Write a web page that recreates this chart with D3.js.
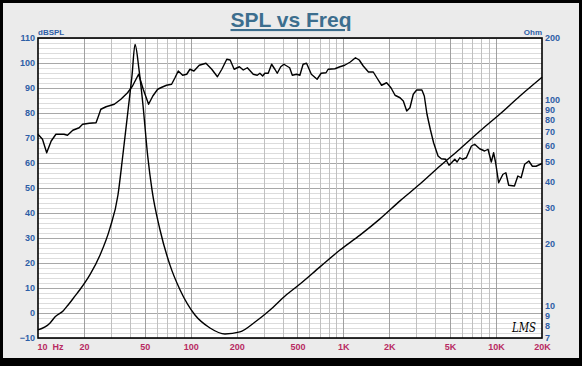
<!DOCTYPE html>
<html><head><meta charset="utf-8">
<script src="https://cdn.jsdelivr.net/npm/d3@7"></script>
<style>body{margin:0;background:#000}svg{display:block}</style>
</head><body><svg id="c" width="582" height="366"></svg>
<script>
const splFreq = [10,10.7,11.4,12.2,13.1,14.8,15.6,16.9,18.6,19.6,21.7,24.0,24.9,25.8,27.9,31.6,34.9,38.6,41.6,45.6,48.9,53.0,56.5,60.8,64.7,69.5,75.0,78.9,82.9,88.6,94.2,98.9,105,113.8,125.9,137.4,149.7,160,172.4,181.4,192.6,208.5,221,235,257,273,284,296,306,322,339,356,369,389,408,445,463,494,519,545,574,617,673,715,770,795,880,950,1020,1110,1200,1270,1350,1460,1570,1680,1780,1920,2050,2180,2350,2470,2600,2730,2870,3020,3270,3390,3530,3710,3900,4170,4380,4680,4920,5110,5370,5560,5790,6030,6390,6900,7250,7810,8420,8860,9310,9640,9940,10400,11100,11600,12100,13200,13900,14600,15400,16400,17300,18300,19500,20000];
const splDb = [71.5,69.5,64.1,68.8,71.5,71.5,71.1,73.1,74.1,75.5,75.9,76.1,78.8,81.5,82.5,83.5,85.5,88.1,90.8,95.5,89.5,83.5,86.8,89.5,90.3,91.1,91.5,94.1,96.8,95.1,95.5,97.5,96.8,99.1,99.9,97.5,94.5,97.5,101.5,101.2,97.5,98.5,97.2,98.1,95.5,95.1,95.9,94.8,95.9,95.9,99.5,97.5,95.9,98.5,99.5,98.1,95.1,95.5,95.1,99.5,99.9,95.5,93.5,95.9,96.1,97.5,97.7,98.5,99.1,100.4,102.1,101.2,98.8,96.4,96.4,93.5,91.1,92.1,90.1,87.1,86.1,84.8,80.8,82.1,87.5,89.2,89.2,86.8,79.5,73.5,68.1,62.8,61.7,61.5,59.1,60.1,61.5,60.4,62.1,61.5,62.1,66.8,67.5,65.7,64.8,65.5,60.4,64.1,60.1,52.1,55.5,56.1,51.1,50.8,54.8,54.1,59.5,60.8,58.7,58.7,59.5,59.8];
const impFreq = [10,12.0,12.9,14.6,15.7,17.5,18.8,21.9,25.5,29.6,33.4,35.9,38.9,41.3,43.2,45.9,48.7,52.3,55.8,63.0,73.2,85.1,106.7,133.8,167.7,210,264,331,415,520,703,950,1285,1737,2349,3175,4292,5801,7845,10605,14340,20000];
const impOhm = [7.66,8.28,8.85,9.47,10.1,11.2,12.0,14.2,17.7,23.9,34.6,53.5,89.5,132,186,140,94.6,53.5,36.6,23.4,15.8,12.0,9.05,7.83,7.32,7.49,8.37,9.57,11.2,12.8,15.5,18.7,22.1,26.5,32.4,39.1,47.8,57.9,70.7,85.5,104.6,129];
const dbTicks = [110,100,90,80,70,60,50,40,30,20,10,0,-10];
const ohmTicks = [200,100,90,80,70,60,50,40,30,20,10,9,8,7];
const freqTicks = [10,20,50,100,200,500,1000,2000,5000,10000,20000];
const freqTickLabels = ["10  Hz","20","50","100","200","500","1K","2K","5K","10K","20K"];
const title = "SPL vs Freq";

const svg = d3.select("#c");
const L=38, R=542, T=38, B=338;
const x = d3.scaleLog().domain([10,20000]).range([L,R]);
const y = d3.scaleLinear().domain([-10,110]).range([B,T]);
const y2 = d3.scaleLog().domain([7,200]).range([B,T]);

svg.append("rect").attr("x",3).attr("y",3).attr("width",576).attr("height",355).attr("fill","#ebebeb");
svg.append("rect").attr("x",L).attr("y",T).attr("width",R-L).attr("height",B-T).attr("fill","#fff");

// grid
const g = svg.append("g");
const minorDb = d3.range(-10,110.1,2);
g.selectAll(".hm").data(minorDb).join("line").attr("x1",L).attr("x2",R)
  .attr("y1",d=>Math.round(y(d))+0.5).attr("y2",d=>Math.round(y(d))+0.5)
  .attr("stroke",d=>d%10===0?"#a8a8a8":"#dcdcdc").attr("stroke-width",1);
const vf=[];
[10,100,1000,10000].forEach(dec=>{for(let k=1;k<10;k++){const f=dec*k;if(f>10&&f<20000)vf.push(f);}});
g.selectAll(".vm").data(vf).join("line").attr("y1",T).attr("y2",B)
  .attr("x1",d=>Math.round(x(d))+0.5).attr("x2",d=>Math.round(x(d))+0.5)
  .attr("stroke",d=>freqTicks.includes(d)?"#a0a0a0":"#c0c0c0").attr("stroke-width",1);

// curves
svg.append("path").datum(impFreq.map((f,i)=>[f,impOhm[i]]))
  .attr("d",d3.line().x(d=>x(d[0])).y(d=>y2(d[1])).curve(d3.curveMonotoneX))
  .attr("fill","none").attr("stroke","#000").attr("stroke-width",1.4);
svg.append("path").datum(splFreq.map((f,i)=>[f,splDb[i]]))
  .attr("d",d3.line().x(d=>x(d[0])).y(d=>y(d[1])))
  .attr("fill","none").attr("stroke","#000").attr("stroke-width",1.4).attr("stroke-linejoin","round");

svg.append("rect").attr("x",L).attr("y",T).attr("width",R-L).attr("height",B-T)
  .attr("fill","none").attr("stroke","#000").attr("stroke-width",1.6);

// axes
const blue="#2e5ea6", red="#b82a62";
const ax = svg.append("g").attr("transform",`translate(${L-1},0)`)
  .call(d3.axisLeft(y).tickValues(dbTicks).tickSize(0).tickPadding(2));
const ax2 = svg.append("g").attr("transform",`translate(${R+1},0)`)
  .call(d3.axisRight(y2).tickValues(ohmTicks).tickFormat(d3.format("d")).tickSize(0).tickPadding(2));
const ax3 = svg.append("g").attr("transform",`translate(0,${B+3})`)
  .call(d3.axisBottom(x).tickValues(freqTicks).tickFormat((d,i)=>freqTickLabels[i]).tickSize(0).tickPadding(3));
[ax,ax2,ax3].forEach(a=>{a.select(".domain").remove();
  a.selectAll("text").attr("font-family","Liberation Sans, Arial").attr("font-weight","bold").attr("font-size",9);});
ax.selectAll("text").attr("fill",blue);
ax2.selectAll("text").attr("fill",blue);
ax3.selectAll("text").attr("fill",red).style("white-space","pre").attr("xml:space","preserve");
ax3.selectAll("text").filter((d,i)=>i===0).attr("text-anchor","start").attr("dx",-1);

svg.append("text").attr("x",L).attr("y",35).text("dBSPL").attr("fill",blue)
  .attr("font-family","Liberation Sans, Arial").attr("font-weight","bold").attr("font-size",8);
svg.append("text").attr("x",R).attr("y",35).attr("text-anchor","end").text("Ohm").attr("fill",blue)
  .attr("font-family","Liberation Sans, Arial").attr("font-weight","bold").attr("font-size",8);

// title
svg.append("text").attr("x",291).attr("y",27).attr("text-anchor","middle").text(title)
  .attr("fill","#3c6e8e").attr("font-family","Liberation Sans Narrow, Arial Narrow, sans-serif")
  .attr("font-weight","bold").attr("font-size",21).attr("text-decoration","underline");

// logo
svg.append("text").attr("x",512).attr("y",332).text("LMS").attr("fill","#000")
  .attr("font-family","DejaVu Serif, serif").attr("font-style","italic").attr("font-size",12)
  .attr("textLength",24).attr("lengthAdjust","spacingAndGlyphs");
</script></body></html>
